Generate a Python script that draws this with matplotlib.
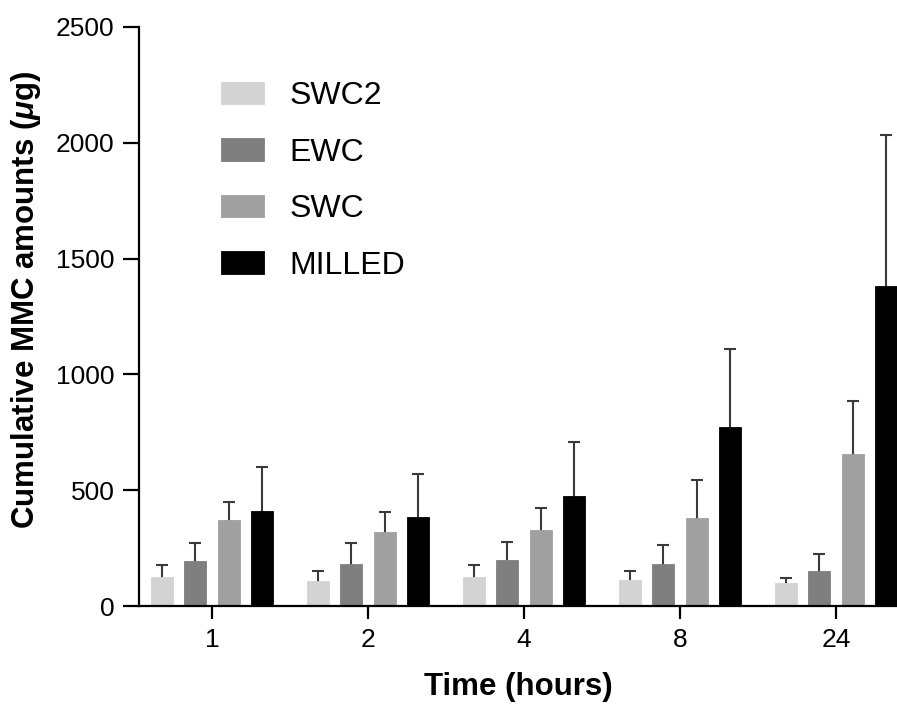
import matplotlib
matplotlib.use("Agg")
import matplotlib.pyplot as plt
import numpy as np

hours = ['1', '2', '4', '8', '24']
series = ['SWC2', 'EWC', 'SWC', 'MILLED']
swc2 = [124, 109, 127, 111, 98]
swc2_err = [53, 43, 51, 42, 22]
ewc = [196, 183, 197, 183, 150]
ewc_err = [75, 88, 81, 79, 75]
swc = [370, 321, 327, 380, 656]
swc_err = [80, 83, 98, 164, 230]
milled = [409, 383, 473, 771, 1380]
milled_err = [191, 188, 235, 339, 652]
yticks = [0, 500, 1000, 1500, 2000, 2500]

colors = ['#d3d3d3', '#7f7f7f', '#a0a0a0', '#000000']

plt.rcParams['font.family'] = ['Liberation Sans', 'DejaVu Sans']
plt.rcParams['mathtext.fontset'] = 'custom'
plt.rcParams['mathtext.it'] = 'Liberation Sans:italic:bold'

fig = plt.figure(figsize=(8.97, 7.05), dpi=100)
ax = fig.add_axes([139/897, 99/705, 1 - 139/897, (606-27)/705])

x = np.arange(len(hours))
step = 0.2147
width = 0.141
vals = [swc2, ewc, swc, milled]
errs = [swc2_err, ewc_err, swc_err, milled_err]
for i, (v, e, c, name) in enumerate(zip(vals, errs, colors, series)):
    pos = x + (i - 1.5) * step
    ax.bar(pos, v, width, color=c, edgecolor=c,
           linewidth=0.6, label=name, zorder=2)
    # symmetric error bars drawn behind the bars: only the upper half shows
    ax.errorbar(pos, v, yerr=e, fmt='none',
                ecolor='#3a3a3a', elinewidth=1.5, capsize=4, capthick=1.5, zorder=1)

ax.set_xlim(-0.468, 4.392)
ax.set_ylim(0, 2500)
ax.set_yticks(yticks)
ax.set_xticks(x)
ax.set_xticklabels(hours)
for s in ['top', 'right']:
    ax.spines[s].set_visible(False)
for s in ['left', 'bottom']:
    ax.spines[s].set_linewidth(1.6)
    ax.spines[s].set_color('black')
ax.spines['left'].set_zorder(3)
ax.spines['bottom'].set_zorder(3)
ax.tick_params(axis='both', width=1.6, labelsize=19, direction='out')
ax.tick_params(axis='x', length=9.5, pad=6)
ax.tick_params(axis='y', length=11.5, pad=6)

ax.set_xlabel('Time (hours)', fontsize=22.5, fontweight='bold', labelpad=15)
ax.set_ylabel(r'Cumulative MMC amounts ($\mu$g)', fontsize=22.5, fontweight='bold')
ax.yaxis.set_label_coords(-0.127, (606 - 300) / 579)

leg = fig.legend(loc='upper left', bbox_to_anchor=(221/897, 1 - 81/705), frameon=False,
                 fontsize=23, handlelength=1.35, handleheight=0.71, handletextpad=0.78,
                 labelspacing=0.83, borderpad=0, borderaxespad=0)

fig.savefig('out.png', dpi=100)
